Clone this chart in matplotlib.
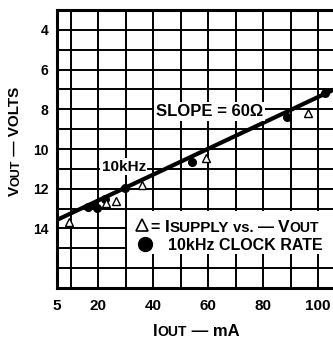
import matplotlib
matplotlib.use('Agg')
import matplotlib.pyplot as plt
from matplotlib.transforms import IdentityTransform
from matplotlib.lines import Line2D
from matplotlib.patches import Rectangle

plt.rcParams['font.family'] = ['Liberation Sans', 'DejaVu Sans']
plt.rcParams['font.weight'] = 'bold'

# ISUPPLY vs. -VOUT (open triangles)
iout_tri = [9.4, 22.8, 26.5, 35.9, 59.2, 96.3]
vout_tri = [13.7, 12.7, 12.6, 11.8, 10.45, 8.2]
# 10kHz clock rate (filled dots)
iout_dot = [16.3, 18.5, 19.5, 22.5, 29.7, 54.1, 88.6, 102.5]
vout_dot = [12.9, 12.8, 12.95, 12.5, 11.95, 10.65, 8.4, 7.2]
# fitted line, slope = 60 ohm
fit_iout = [5, 110]
fit_vout = [13.57, 6.73]

xticks = [5, 10, 20, 30, 40, 50, 60, 70, 80, 90, 100, 110]
xlabels = ['5', '', '20', '', '40', '', '60', '', '80', '', '100', '']
yticks = list(range(3, 18))
ylabels = [str(v) if v in (4, 6, 8, 10, 12, 14) else '' for v in yticks]

fig = plt.figure(figsize=(3.33, 3.40), dpi=100)
ax = fig.add_axes([57 / 333, 52 / 340, 288.6 / 333, 278 / 340])

ax.plot(fit_iout, fit_vout, color='black', lw=3.0, zorder=3, solid_capstyle='butt')
ax.plot(iout_dot, vout_dot, 'o', color='black', ms=5.5, zorder=4)
ax.plot(iout_tri, vout_tri, '^', mfc='white', mec='black', mew=1.0, ms=5.5, zorder=4)

ax.set_xlim(5, 110)
ax.set_ylim(17, 3)
ax.set_xticks(xticks)
ax.set_xticklabels(xlabels, fontsize=11)
ax.set_yticks(yticks)
ax.set_yticklabels(ylabels, fontsize=10)
ax.tick_params(length=0)
ax.tick_params(axis='x', pad=8)
ax.tick_params(axis='y', pad=6)
ax.grid(True, color='black', lw=1.4)
for sp in ax.spines.values():
    sp.set_linewidth(2.2)

# white panel behind the key
ax.add_patch(Rectangle((30.4, 13.12), 85, 2.18, facecolor='white',
                       edgecolor='none', zorder=2))

ax.text(60.5, 8.1, 'SLOPE = 60Ω', fontsize=12, ha='center', va='center', zorder=5,
        bbox=dict(facecolor='white', edgecolor='none', pad=1.5))
ax.text(29.3, 10.9, '10kHz', fontsize=11, ha='center', va='center', zorder=5,
        bbox=dict(facecolor='white', edgecolor='none', pad=1.0))

renderer = fig.canvas.get_renderer()


def pieces(x, y, parts, rotation=0):
    # draw text runs of mixed size one after another (pixel coords)
    for s, size in parts:
        t = fig.text(x, y, s, fontsize=size, rotation=rotation, ha='left',
                     va='baseline', rotation_mode='anchor',
                     transform=IdentityTransform())
        bb = t.get_window_extent(renderer)
        if rotation == 90:
            y += bb.height
        else:
            x += bb.width


# key
fig.add_artist(Line2D([142], [115], marker='^', mfc='white', mec='black',
                      mew=1.2, ms=8, transform=IdentityTransform()))
fig.add_artist(Line2D([145], [96], marker='o', color='black', ms=10,
                      transform=IdentityTransform()))
pieces(151, 108, [('= ', 11.5), ('I', 12.5), ('SUPPLY', 11), (' vs. ', 10.5),
                  ('— ', 11.5), ('V', 12.5), ('OUT', 10)])
pieces(168, 90, [('10kHz CLOCK RATE', 11.5)])

# axis titles
pieces(153, 4, [('I', 12), ('OUT', 10), (' — mA', 12)])
pieces(19, 144, [('V', 11), ('OUT', 9), (' — VOLTS', 11)], rotation=90)

fig.savefig('out.png', dpi=100)
